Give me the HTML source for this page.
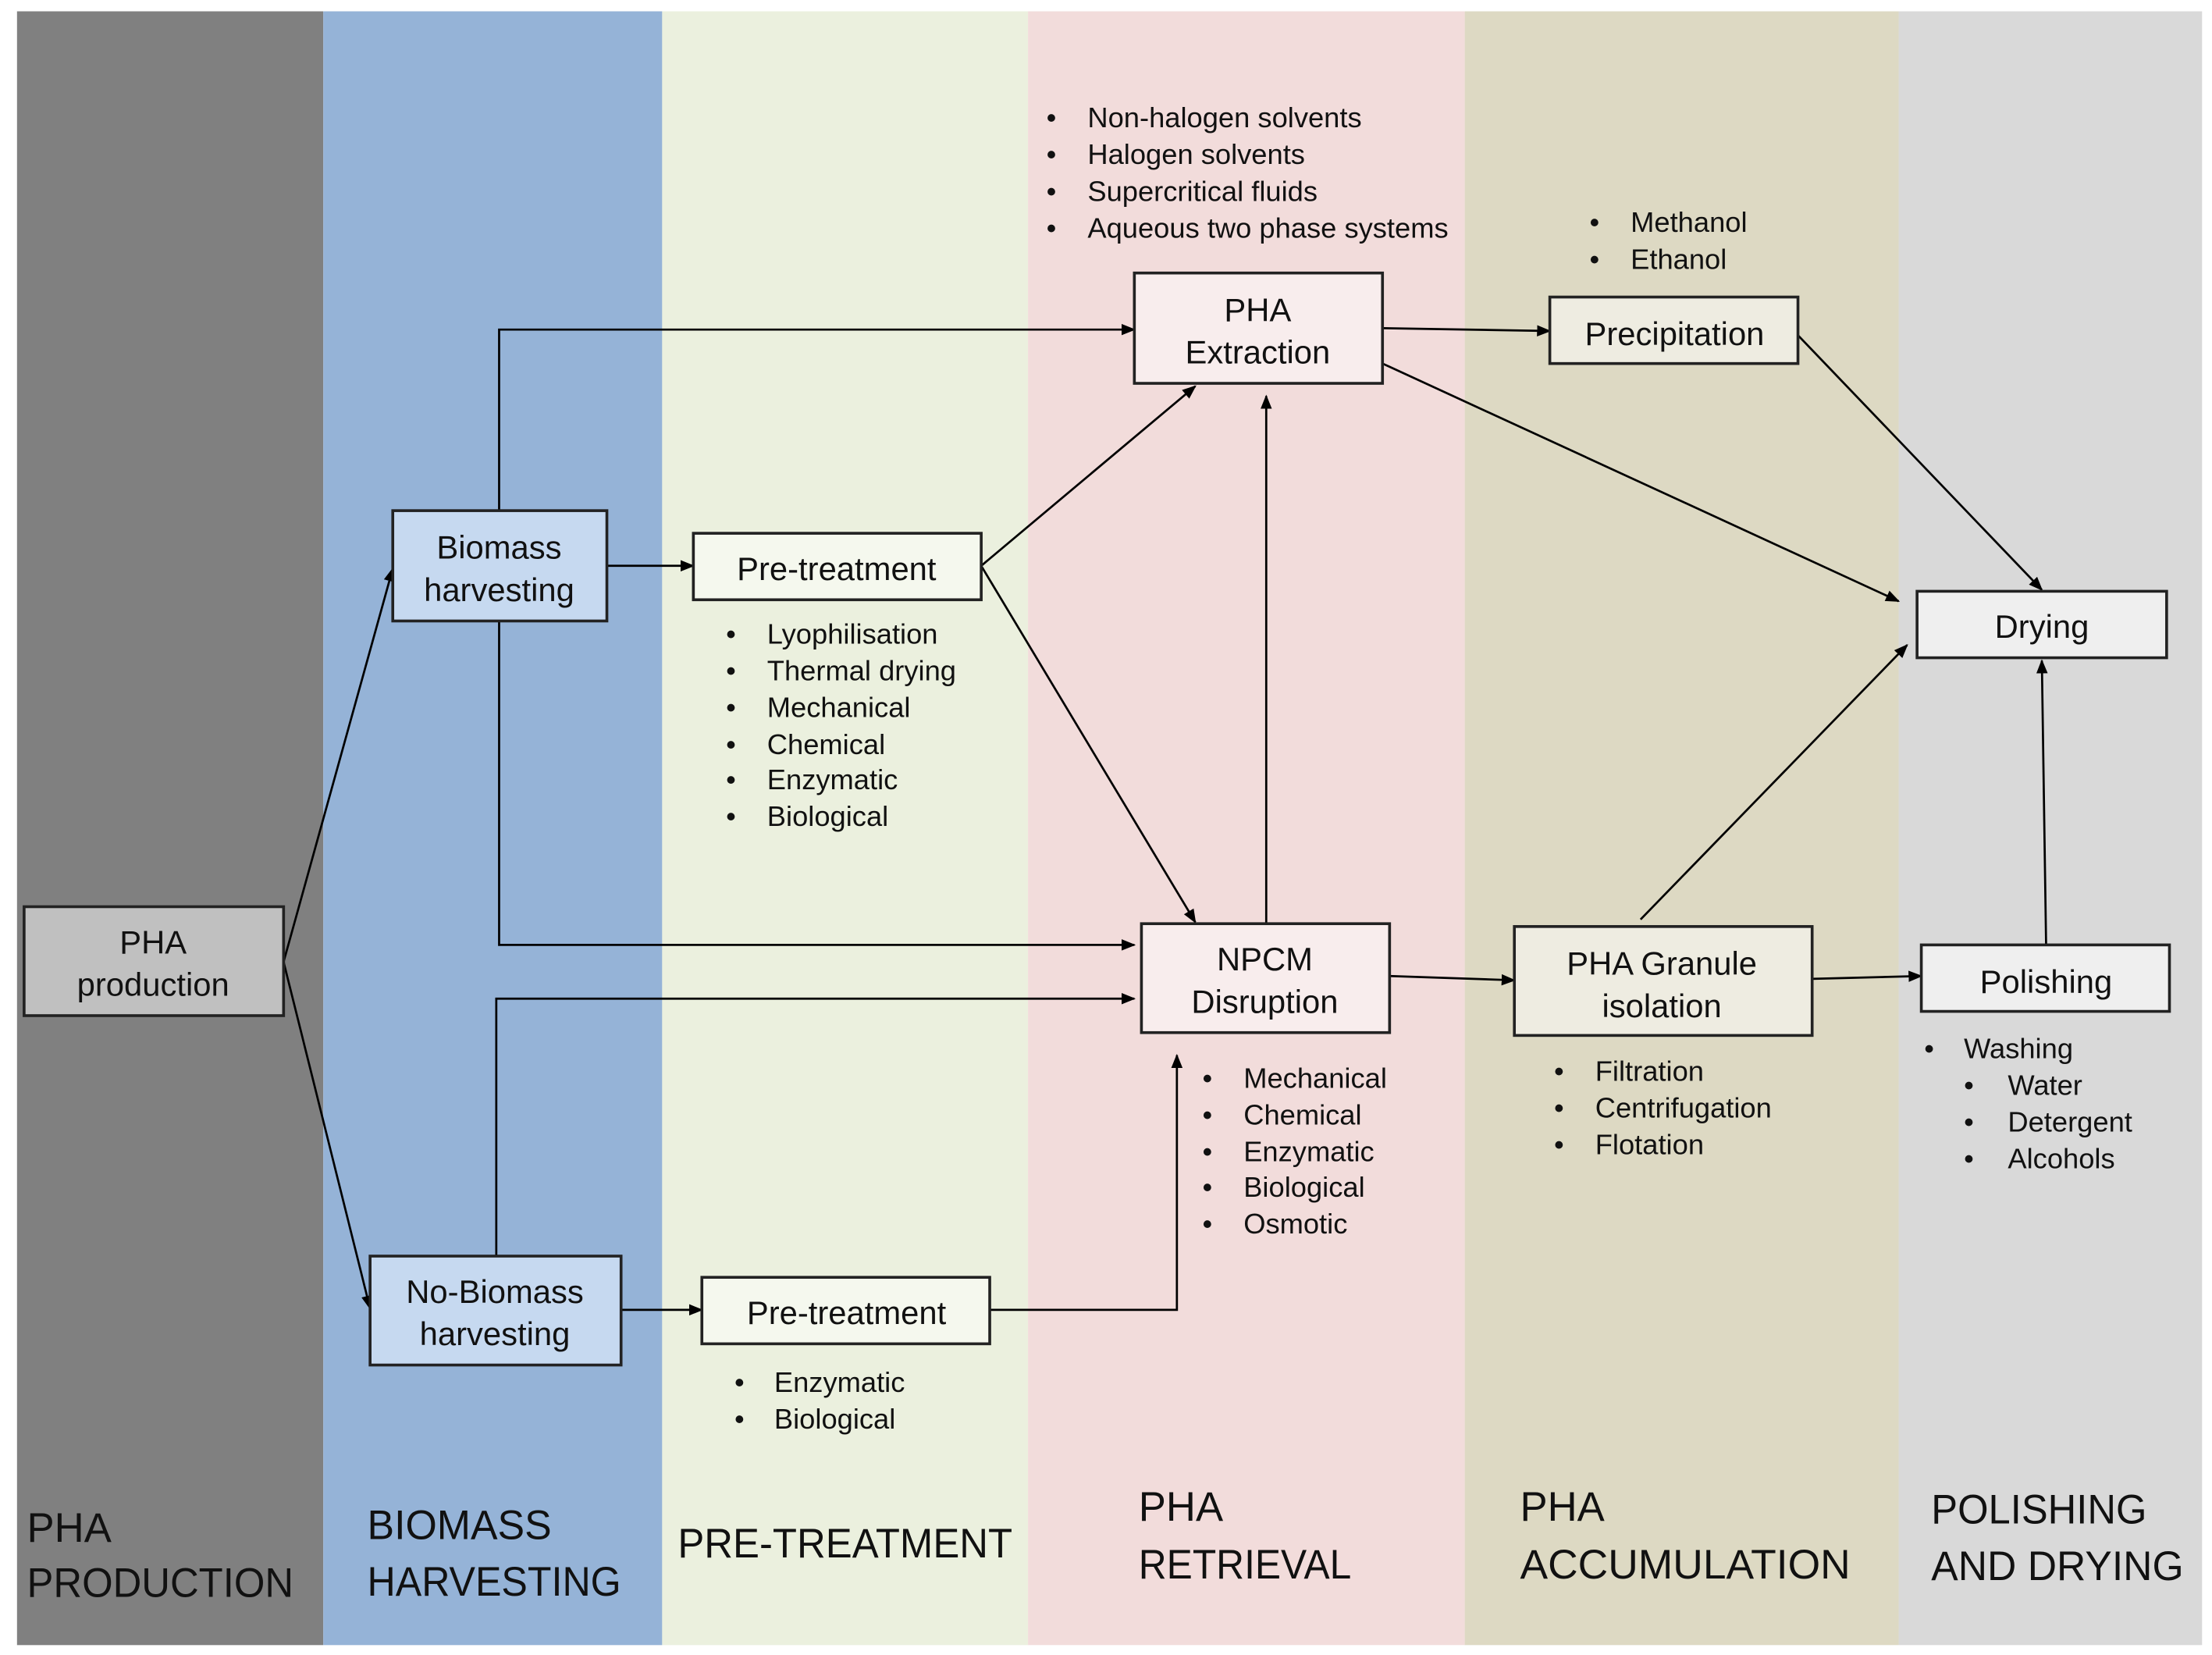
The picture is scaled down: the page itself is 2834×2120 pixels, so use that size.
<!DOCTYPE html>
<html><head><meta charset="utf-8"><style>html,body{margin:0;padding:0;background:#fff}svg{display:block}</style></head>
<body>
<svg width="2834" height="2120" viewBox="0 0 1560 1170" preserveAspectRatio="none" xmlns="http://www.w3.org/2000/svg">
<defs>
<marker id="a" markerWidth="10" markerHeight="8" refX="9" refY="4" orient="auto" markerUnits="userSpaceOnUse">
<path d="M0,0 L10,4 L0,8 z" fill="#000"/></marker>
</defs>
<rect x="0" y="0" width="1560" height="1170" fill="#fff"/>
<rect x="12" y="8" width="216" height="1155" fill="#808080"/>
<rect x="228" y="8" width="239" height="1155" fill="#95b3d7"/>
<rect x="467" y="8" width="258" height="1155" fill="#ebf0de"/>
<rect x="725" y="8" width="308" height="1155" fill="#f2dcdb"/>
<rect x="1033" y="8" width="306" height="1155" fill="#ddd9c3"/>
<rect x="1339" y="8" width="214" height="1155" fill="#d9d9d9"/>

<g stroke="#000" stroke-width="1.5" fill="none">
<line x1="200" y1="680" x2="277" y2="402" marker-end="url(#a)"/>
<line x1="200" y1="680" x2="261" y2="925" marker-end="url(#a)"/>
<polyline points="352,361 352,233 800,233" marker-end="url(#a)"/>
<line x1="428" y1="400" x2="489" y2="400" marker-end="url(#a)"/>
<polyline points="352,439 352,668 800,668" marker-end="url(#a)"/>
<polyline points="350,888 350,706 800,706" marker-end="url(#a)"/>
<line x1="438" y1="926" x2="495" y2="926" marker-end="url(#a)"/>
<polyline points="698,926 830,926 830,746" marker-end="url(#a)"/>
<line x1="692" y1="400" x2="843" y2="273" marker-end="url(#a)"/>
<line x1="692" y1="400" x2="843" y2="652" marker-end="url(#a)"/>
<line x1="893" y1="653" x2="893" y2="280" marker-end="url(#a)"/>
<line x1="975" y1="232" x2="1093" y2="234" marker-end="url(#a)"/>
<line x1="975" y1="257" x2="1339" y2="425" marker-end="url(#a)"/>
<line x1="1268" y1="237" x2="1440" y2="417" marker-end="url(#a)"/>
<line x1="980" y1="690" x2="1068" y2="693" marker-end="url(#a)"/>
<line x1="1157" y1="650" x2="1345" y2="456" marker-end="url(#a)"/>
<line x1="1278" y1="692" x2="1355" y2="690" marker-end="url(#a)"/>
<line x1="1443" y1="668" x2="1440" y2="467" marker-end="url(#a)"/>
</g>

<g stroke="#222" stroke-width="2">
<rect x="17" y="641" width="183" height="77" fill="#c0c0c0"/>
<rect x="277" y="361" width="151" height="78" fill="#c6d9f0"/>
<rect x="489" y="377" width="203" height="47" fill="#f5f8ee"/>
<rect x="800" y="193" width="175" height="78" fill="#f8eded"/>
<rect x="1093" y="210" width="175" height="47" fill="#eeece1"/>
<rect x="1352" y="418" width="176" height="47" fill="#efefef"/>
<rect x="805" y="653" width="175" height="77" fill="#f8eded"/>
<rect x="1068" y="655" width="210" height="77" fill="#eeece1"/>
<rect x="1355" y="668" width="175" height="47" fill="#efefef"/>
<rect x="261" y="888" width="177" height="77" fill="#c6d9f0"/>
<rect x="495" y="903" width="203" height="47" fill="#f5f8ee"/>
</g>

<g font-family="Liberation Sans, sans-serif" font-size="23" fill="#111" text-anchor="middle">
<text x="108" y="674">PHA</text><text x="108" y="704">production</text>
<text x="352" y="395">Biomass</text><text x="352" y="425">harvesting</text>
<text x="590" y="410">Pre-treatment</text>
<text x="887" y="227">PHA</text><text x="887" y="257">Extraction</text>
<text x="1181" y="244">Precipitation</text>
<text x="1440" y="451">Drying</text>
<text x="892" y="686">NPCM</text><text x="892" y="716">Disruption</text>
<text x="1172" y="689">PHA Granule</text><text x="1172" y="719">isolation</text>
<text x="1443" y="702">Polishing</text>
<text x="349" y="921">No-Biomass</text><text x="349" y="951">harvesting</text>
<text x="597" y="936">Pre-treatment</text>
</g>

<g font-family="Liberation Sans, sans-serif" font-size="20" fill="#111">
<g><text x="738" y="90">•</text><text x="767" y="90">Non-halogen solvents</text>
<text x="738" y="116">•</text><text x="767" y="116">Halogen solvents</text>
<text x="738" y="142">•</text><text x="767" y="142">Supercritical fluids</text>
<text x="738" y="168">•</text><text x="767" y="168">Aqueous two phase systems</text></g>
<g><text x="1121" y="164">•</text><text x="1150" y="164">Methanol</text>
<text x="1121" y="190">•</text><text x="1150" y="190">Ethanol</text></g>
<g><text x="512" y="455">•</text><text x="541" y="455">Lyophilisation</text>
<text x="512" y="481">•</text><text x="541" y="481">Thermal drying</text>
<text x="512" y="507">•</text><text x="541" y="507">Mechanical</text>
<text x="512" y="533">•</text><text x="541" y="533">Chemical</text>
<text x="512" y="558">•</text><text x="541" y="558">Enzymatic</text>
<text x="512" y="584">•</text><text x="541" y="584">Biological</text></g>
<g><text x="848" y="769">•</text><text x="877" y="769">Mechanical</text>
<text x="848" y="795">•</text><text x="877" y="795">Chemical</text>
<text x="848" y="821">•</text><text x="877" y="821">Enzymatic</text>
<text x="848" y="846">•</text><text x="877" y="846">Biological</text>
<text x="848" y="872">•</text><text x="877" y="872">Osmotic</text></g>
<g><text x="1096" y="764">•</text><text x="1125" y="764">Filtration</text>
<text x="1096" y="790">•</text><text x="1125" y="790">Centrifugation</text>
<text x="1096" y="816">•</text><text x="1125" y="816">Flotation</text></g>
<g><text x="1357" y="748">•</text><text x="1385" y="748">Washing</text>
<text x="1385" y="774">•</text><text x="1416" y="774">Water</text>
<text x="1385" y="800">•</text><text x="1416" y="800">Detergent</text>
<text x="1385" y="826">•</text><text x="1416" y="826">Alcohols</text></g>
<g><text x="518" y="984">•</text><text x="546" y="984">Enzymatic</text>
<text x="518" y="1010">•</text><text x="546" y="1010">Biological</text></g>
</g>

<g font-family="Liberation Sans Narrow, Liberation Sans, sans-serif" font-size="29" fill="#111">
<text x="19" y="1090">PHA</text>
<text x="19" y="1129" textLength="188" lengthAdjust="spacingAndGlyphs">PRODUCTION</text>
<text x="259" y="1088" textLength="130" lengthAdjust="spacingAndGlyphs">BIOMASS</text>
<text x="259" y="1128" textLength="179" lengthAdjust="spacingAndGlyphs">HARVESTING</text>
<text x="478" y="1101" textLength="236" lengthAdjust="spacingAndGlyphs">PRE-TREATMENT</text>
<text x="803" y="1075">PHA</text>
<text x="803" y="1116" textLength="150" lengthAdjust="spacingAndGlyphs">RETRIEVAL</text>
<text x="1072" y="1075">PHA</text>
<text x="1072" y="1116" textLength="233" lengthAdjust="spacingAndGlyphs">ACCUMULATION</text>
<text x="1362" y="1077" textLength="152" lengthAdjust="spacingAndGlyphs">POLISHING</text>
<text x="1362" y="1117" textLength="178" lengthAdjust="spacingAndGlyphs">AND DRYING</text>
</g>
</svg>
</body></html>
